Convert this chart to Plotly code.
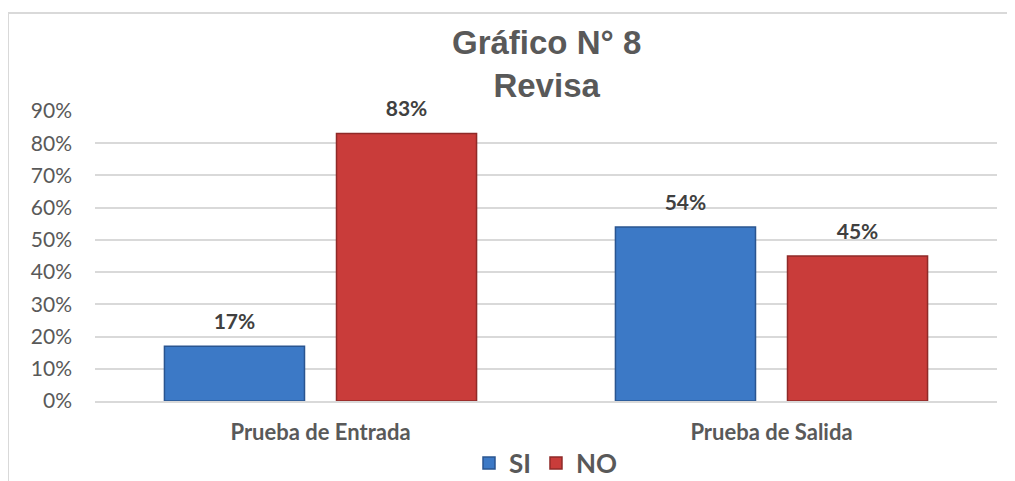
import plotly.graph_objects as go

# Data
categorias = ['Prueba de Entrada', 'Prueba de Salida']
si = [0.17, 0.54]
no = [0.83, 0.45]
ticks = [0, 0.1, 0.2, 0.3, 0.4, 0.5, 0.6, 0.7, 0.8, 0.9]
tick_labels = ['0%', '10%', '20%', '30%', '40%', '50%', '60%', '70%', '80%', '90%']

label_font = dict(family='Lato', size=21, color='#404040', weight='bold')

fig = go.Figure()
fig.add_trace(go.Bar(
    name='SI', x=categorias, y=si, offsetgroup='si',
    marker=dict(color='#3c79c6', line=dict(color='#2a5590', width=1.5)),
))
fig.add_trace(go.Bar(
    name='NO', x=categorias, y=no, offsetgroup='no',
    marker=dict(color='#c93c3a', line=dict(color='#8f2a28', width=1.5)),
))
# value labels, grouped like the bars so they sit above each one
for vals, grp in [(si, 'si'), (no, 'no')]:
    fig.add_trace(go.Scatter(
        x=categorias, y=vals, offsetgroup=grp, mode='markers+text',
        text=[f'{v:.0%}' for v in vals], textposition='top center',
        textfont=label_font, marker=dict(size=18, opacity=0),
        showlegend=False, hoverinfo='skip', cliponaxis=False,
    ))

fig.update_layout(
    width=1015, height=481,
    margin=dict(l=87, r=26, t=103, b=88, autoexpand=False),
    paper_bgcolor='white', plot_bgcolor='white',
    barmode='group', bargap=0.237, bargroupgap=0.186,
    scattermode='group', scattergap=0.237,
    showlegend=True,
    legend=dict(
        orientation='h', x=0.5, xanchor='center', y=-62 / 290, yanchor='middle',
        font=dict(family='Lato', size=26, color='#595959', weight='bold'),
        traceorder='normal', itemwidth=30,
    ),
    annotations=[dict(
        text='Gráfico N° 8<br>Revisa', xref='paper', yref='paper',
        x=0.5, y=(401 - 64) / 290, xanchor='center', yanchor='middle',
        showarrow=False,
        font=dict(family='Liberation Sans Narrow, Arial Narrow, Liberation Sans',
                  size=33, color='#595959', weight='bold'),
    )],
    shapes=[
        dict(type='line', xref='paper', yref='paper',
             x0=-87 / 902, x1=-87 / 902, y0=(401 - 13) / 290, y1=-90 / 290,
             line=dict(color='#d9d9d9', width=2)),
        dict(type='line', xref='paper', yref='paper',
             x0=-87 / 902, x1=1.03, y0=(401 - 13) / 290, y1=(401 - 13) / 290,
             line=dict(color='#d9d9d9', width=2)),
    ],
)

fig.update_xaxes(
    showgrid=False, showline=True, linecolor='#d9d9d9', linewidth=2,
    tickfont=dict(family='Lato', size=22, color='#595959', weight='bold'),
    ticks='', ticklabelstandoff=11, automargin=False,
)
fig.update_yaxes(
    range=[0, 0.9], tickvals=ticks, ticktext=tick_labels,
    showgrid=True, gridcolor='#d9d9d9', gridwidth=1.5,
    zeroline=False, showline=False, ticks='', ticklabelstandoff=22,
    tickfont=dict(family='Lato', size=21, color='#595959'),
    automargin=False,
)

fig.write_html('out.html')
